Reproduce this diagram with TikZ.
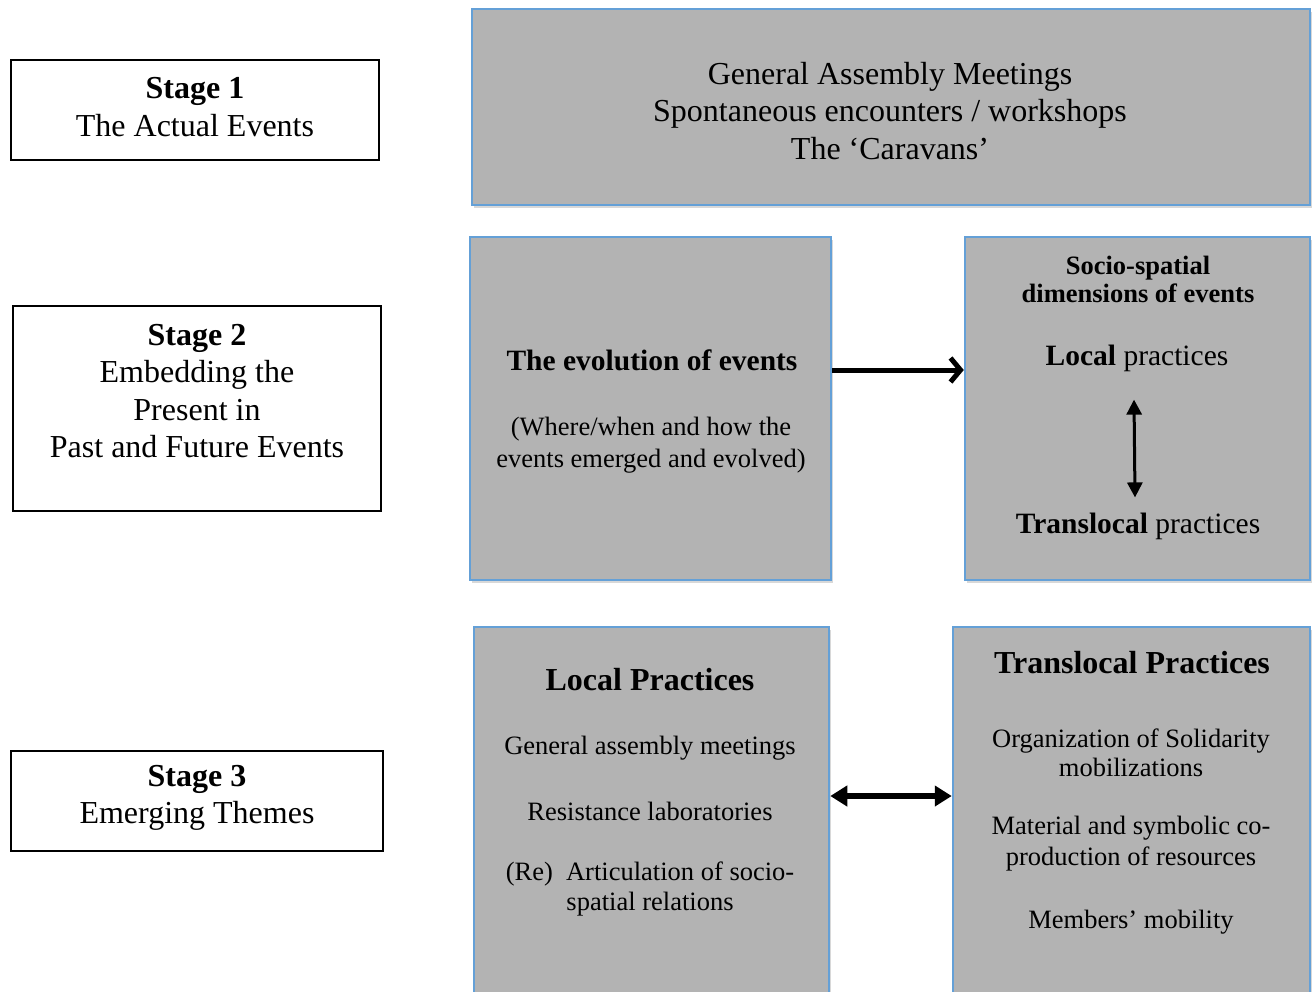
\documentclass[tikz,border=0pt]{standalone}
\usepackage{fontspec}
\setmainfont{Liberation Serif}
\usetikzlibrary{arrows.meta,shadows}

\definecolor{boxgray}{RGB}{179,179,179}
\definecolor{boxblue}{RGB}{100,160,215}

\tikzset{
  stagebox/.style={draw=black,line width=2pt,fill=white,inner sep=0pt},
  graybox/.style={draw=boxblue,line width=2.5pt,fill=boxgray,inner sep=0pt,
    drop shadow={shadow xshift=2pt,shadow yshift=-3pt,opacity=.3}},
  txt/.style={align=center,inner sep=0pt},
  big/.style={font=\fontsize{32}{37.5}\selectfont},
  mid/.style={font=\fontsize{26.5}{29.5}\selectfont},
}

\begin{document}
\begin{tikzpicture}[x=1pt,y=-1pt]
  \clip (0,0) rectangle (1313,991);
  \fill[white] (0,0) rectangle (1313,991);

  % stage boxes on the left
  \node[stagebox,minimum width=368pt,minimum height=100pt] (stageone) at (195,110) {};
  \node[stagebox,minimum width=368pt,minimum height=205pt] (stagetwo) at (197,408.5) {};
  \node[stagebox,minimum width=372pt,minimum height=100pt] (stagethree) at (197,801) {};
  \node[txt,big] (stageonetxt) at (195,107) {\textbf{Stage 1}\\The Actual Events};
  \node[txt,big] (stagetwotxt) at (197,391) {\textbf{Stage 2}\\Embedding the\\Present in\\Past and Future Events};
  \node[txt,big] (stagethreetxt) at (197,798) {\textbf{Stage 3}\\Emerging Themes};

  % stage 1
  \node[graybox,minimum width=838pt,minimum height=196pt] (events) at (891,107) {};
  \node[txt,big] (eventstxt) at (890,111) {General Assembly Meetings\\Spontaneous encounters / workshops\\The `Caravans'};

  % stage 2
  \node[graybox,minimum width=361pt,minimum height=343pt] (evol) at (650.5,408.5) {};
  \node[graybox,minimum width=345pt,minimum height=343pt] (socio) at (1137.5,408.5) {};
  \node[txt,font=\fontsize{29.5}{32}\selectfont\bfseries] (evoltitle) at (652,360) {The evolution of events};
  \node[txt,font=\fontsize{26.5}{32}\selectfont] (evolsub) at (651,445) {(Where/when and how the\\events emerged and evolved)};
  \node[txt,font=\fontsize{26.5}{28}\selectfont\bfseries] (sociotitle) at (1138,279) {Socio-spatial\\dimensions of events};
  \node[txt,font=\fontsize{29.5}{32}\selectfont] (lp) at (1137,358) {\textbf{Local} practices};
  \node[txt,font=\fontsize{29.5}{32}\selectfont] (tp) at (1138,526) {\textbf{Translocal} practices};

  \draw[line width=5pt,-{Straight Barb[length=10pt,width=24pt,line width=5pt]}]
    (evol.east |- 0,370) -- (socio.west |- 0,370);
  \draw[line width=3pt,{Triangle[length=15pt,width=15pt]}-{Triangle[length=15pt,width=15pt]}]
    (lp.south) ++(-3,28) coordinate (lpa) (tp.north) ++(-3,-15) coordinate (tpa)
    (lpa) -- (tpa);

  % stage 3
  \node[graybox,minimum width=355pt,minimum height=380pt] (loc) at (651.5,817) {};
  \node[graybox,minimum width=357pt,minimum height=380pt] (transloc) at (1131.5,817) {};
  \node[txt,font=\fontsize{32}{36}\selectfont\bfseries] (loctitle) at (650,680) {Local Practices};
  \node[txt,mid] (locone) at (650,748) {General assembly meetings};
  \node[txt,mid] (loctwo) at (650,811) {Resistance laboratories};
  \node[txt,mid] (locthree) at (650,889) {(Re)~ Articulation of socio-\\spatial relations};
  \node[txt,font=\fontsize{32}{36}\selectfont\bfseries] (transtitle) at (1132,663) {Translocal Practices};
  \node[txt,mid] (transone) at (1131,753) {Organization of Solidarity\\mobilizations};
  \node[txt,font=\fontsize{26.5}{31}\selectfont] (transtwo) at (1131,844) {Material and symbolic co-\\production of resources};
  \node[txt,mid] (transthree) at (1131,922) {Members' mobility};

  \draw[line width=6pt,{Triangle[length=17pt,width=20pt]}-{Triangle[length=17pt,width=20pt]}]
    (loc.east |- 0,796) -- (transloc.west |- 0,796);
\end{tikzpicture}
\end{document}
